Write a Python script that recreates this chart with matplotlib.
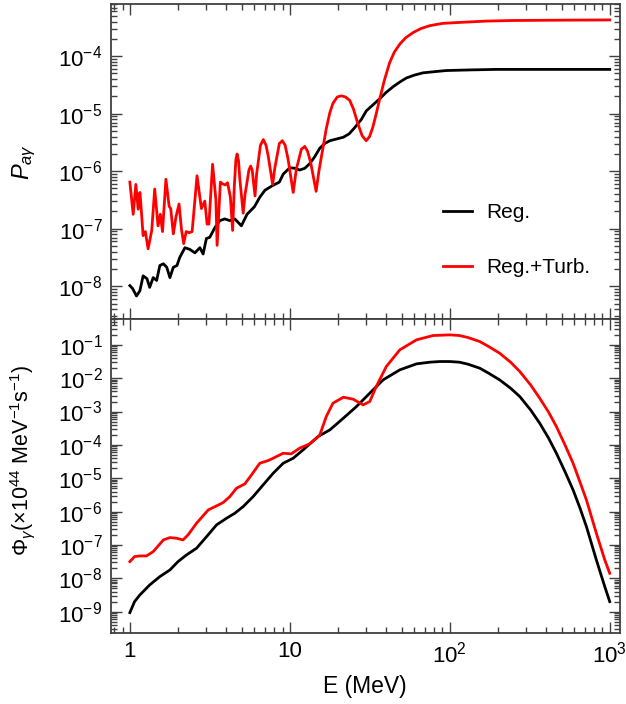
import numpy as np
import matplotlib
matplotlib.use('Agg')
import matplotlib.pyplot as plt
from matplotlib.ticker import LogLocator, NullFormatter

plt.rcParams['font.family'] = ['Liberation Sans', 'DejaVu Sans']
plt.rcParams['mathtext.fontset'] = 'custom'
plt.rcParams['mathtext.rm'] = 'Liberation Sans'
plt.rcParams['mathtext.it'] = 'Liberation Sans:italic'

# top panel: conversion probability, log10 values
E_reg_top = [1.0, 1.04, 1.10, 1.155, 1.21, 1.28, 1.33, 1.40, 1.47, 1.54, 1.62, 1.70,
             1.78, 1.87, 1.97, 2.05, 2.21, 2.37, 2.55, 2.74, 2.87, 3.01, 3.16, 3.40,
             3.65, 3.92, 4.22, 4.53, 4.98, 5.4, 6.0, 6.5, 7.0, 7.8, 8.6, 9.1, 10.0,
             10.8, 11.5, 12.4, 13.3, 14.3, 15.4, 16.5, 17.8, 19.6, 21.6, 23.5, 25.5, 28.0,
             30.1, 33.0, 36.5, 40.0, 44.3, 48.7, 53.5, 60, 68, 80, 95, 130, 195, 400, 1000]
logP_reg = [-7.99, -8.04, -8.17, -8.08, -7.82, -7.87, -8.02, -7.85, -7.90, -7.64, -7.61, -7.67,
            -7.85, -7.67, -7.64, -7.50, -7.33, -7.36, -7.42, -7.33, -7.44, -7.17, -7.15, -6.98,
            -6.86, -6.83, -6.86, -6.83, -6.95, -6.75, -6.62, -6.45, -6.33, -6.25, -6.19, -6.05, -5.94,
            -5.95, -5.98, -5.95, -5.87, -5.75, -5.60, -5.52, -5.47, -5.44, -5.41, -5.35, -5.24, -5.10,
            -4.95, -4.85, -4.74, -4.63, -4.53, -4.45, -4.38, -4.33, -4.29, -4.27, -4.25, -4.24, -4.23, -4.23, -4.23]

E_turb_top = [1.0, 1.049, 1.09, 1.127, 1.155, 1.17, 1.21, 1.25, 1.30, 1.37, 1.43, 1.50,
              1.55, 1.60, 1.68, 1.76, 1.80, 1.87, 1.94, 2.03, 2.10, 2.17, 2.25, 2.35,
              2.45, 2.63, 2.80, 2.94, 3.04, 3.12, 3.29, 3.45, 3.51, 3.68, 3.80, 3.95,
              4.08, 4.25, 4.39, 4.50, 4.60, 4.68, 4.78, 4.87, 5.11, 5.25, 5.36, 5.55,
              5.69, 5.82, 5.90, 6.06, 6.20, 6.34, 6.55, 6.83, 7.10, 7.32, 7.81, 8.05,
              8.25, 8.60, 8.98, 9.35, 9.75, 10.5, 11.0, 11.26, 11.8, 12.4, 12.9, 13.5,
              14.6, 15.2, 15.8, 16.9, 17.8, 18.6, 19.8, 21.0, 22.3, 23.7, 25.0, 26.6,
              28.3, 30.0, 31.5, 33.0, 34.7, 36.5, 39.0, 42.0, 45.0, 48.7, 53.0, 59.0,
              66.0, 75.0, 90.0, 121, 170, 248, 450, 1000]
logP_turb = [-6.19, -6.75, -6.23, -6.66, -6.37, -6.55, -7.12, -7.05, -7.35, -7.03, -6.31, -6.95,
             -6.75, -7.05, -6.14, -6.61, -6.65, -7.09, -6.80, -6.57, -7.00, -7.26, -7.05, -7.07,
             -7.05, -6.08, -6.65, -6.52, -6.92, -6.92, -5.88, -6.50, -7.29, -6.19, -6.22, -6.24,
             -6.20, -6.45, -7.03, -6.25, -5.80, -5.70, -5.82, -6.14, -6.73, -6.40, -6.25, -5.98,
             -5.91, -5.98, -6.14, -6.43, -6.05, -5.85, -5.55, -5.45, -5.55, -5.73, -6.23, -5.95,
             -5.79, -5.52, -5.47, -5.55, -5.79, -6.37, -5.95, -5.85, -5.62, -5.57, -5.65, -5.85,
             -6.35, -6.00, -5.73, -5.26, -4.98, -4.82, -4.71, -4.69, -4.71, -4.77, -4.92, -5.17,
             -5.38, -5.47, -5.40, -5.24, -5.00, -4.74, -4.42, -4.12, -3.93, -3.79, -3.68, -3.59,
             -3.52, -3.47, -3.43, -3.41, -3.39, -3.38, -3.375, -3.37]

# bottom panel: photon flux, log10 values
E_reg_bot = [1.0, 1.07, 1.155, 1.33, 1.54, 1.78, 2.0, 2.26, 2.61, 3.02, 3.48, 4.02, 4.53,
             5.11, 5.90, 6.81, 7.87, 9.09, 10.5, 12.1, 14.0, 15.0, 17.8, 21.6, 26.1, 31.6,
             38.3, 48.7, 61.9, 75, 86.6, 100, 115, 130, 154, 175, 205, 240, 274, 320, 365,
             415, 464, 525, 590, 650, 715, 825, 931, 1000]
logF_reg = [-9.03, -8.70, -8.50, -8.20, -7.95, -7.75, -7.50, -7.30, -7.10, -6.75, -6.40, -6.20, -6.05,
            -5.85, -5.55, -5.20, -4.85, -4.55, -4.40, -4.15, -3.88, -3.75, -3.55, -3.20, -2.85, -2.45,
            -2.05, -1.75, -1.57, -1.52, -1.50, -1.50, -1.52, -1.58, -1.70, -1.85, -2.05, -2.30, -2.55, -2.95, -3.35,
            -3.80, -4.25, -4.80, -5.35, -5.88, -6.45, -7.45, -8.25, -8.70]

E_turb_bot = [1.0, 1.07, 1.155, 1.27, 1.40, 1.62, 1.78, 1.96, 2.15, 2.31, 2.61, 3.09, 3.48,
              3.83, 4.22, 4.64, 5.23, 5.76, 6.49, 7.32, 7.87, 9.09, 10.2, 11.5, 13.3, 14.7,
              15.4, 16.9, 18.6, 21.6, 24.9, 28.7, 31.6, 34.7, 40.1, 48.7, 61.9, 78.6, 100,
              115, 130, 154, 175, 205, 240, 274, 320, 365, 415, 464, 525, 590, 650, 715,
              825, 931, 1000]
logF_turb = [-7.50, -7.35, -7.33, -7.33, -7.20, -6.85, -6.78, -6.80, -6.85, -6.70, -6.35, -5.95, -5.83,
             -5.73, -5.55, -5.30, -5.17, -4.90, -4.55, -4.47, -4.40, -4.25, -4.27, -4.10, -3.97, -3.80,
             -3.70, -3.15, -2.75, -2.57, -2.63, -2.80, -2.70, -2.25, -1.65, -1.15, -0.85, -0.72, -0.70,
             -0.72, -0.78, -0.90, -1.05, -1.25, -1.52, -1.80, -2.20, -2.60, -3.02, -3.45, -4.00, -4.55, -5.10, -5.65,
             -6.65, -7.45, -7.85]

labels = ['Reg.', 'Reg.+Turb.']
colors = ['black', 'red']


def style_axis(ax):
    ax.set_xscale('log')
    ax.set_yscale('log')
    ax.tick_params(which='both', direction='in', top=True, right=True,
                   color='#404040', labelsize=16, width=1.0, pad=6)
    ax.tick_params(which='major', length=8)
    ax.tick_params(which='minor', length=4)
    ax.yaxis.set_major_locator(LogLocator(base=10, numticks=20))
    ax.yaxis.set_minor_locator(LogLocator(base=10, subs=np.arange(2, 10), numticks=20))
    ax.yaxis.set_minor_formatter(NullFormatter())
    for s in ax.spines.values():
        s.set_color('#404040')
        s.set_linewidth(1.3)


fig = plt.figure(figsize=(6.26, 7.04), dpi=100)
ax1 = fig.add_axes([0.177, 0.547, 0.813, 0.447])
ax2 = fig.add_axes([0.177, 0.101, 0.813, 0.446], sharex=ax1)

ax1.plot(E_reg_top, 10 ** np.array(logP_reg), color=colors[0], lw=2, label=labels[0])
ax1.plot(E_turb_top, 10 ** np.array(logP_turb), color=colors[1], lw=2, label=labels[1])
ax2.plot(E_reg_bot, 10 ** np.array(logF_reg), color=colors[0], lw=2)
ax2.plot(E_turb_bot, 10 ** np.array(logF_turb), color=colors[1], lw=2)

style_axis(ax1)
style_axis(ax2)

ax1.set_xlim(0.76, 1155)
ax1.set_ylim(2.7e-9, 8e-4)
ax2.set_ylim(2.3e-10, 0.6)
ax1.tick_params(labelbottom=False)

ax2.set_xticks([1, 10, 100, 1000])
ax2.set_xticklabels(['1', '10', r'$\mathdefault{10^2}$', r'$\mathdefault{10^3}$'])

ax1.set_ylabel(r'$P_{a\gamma}$', fontsize=17)
ax1.yaxis.set_label_coords(-0.143, 0.5)
ax2.set_ylabel(r'$\Phi_\gamma$(×10$^{44}$ MeV$^{-1}$s$^{-1}$)', fontsize=15.5)
ax2.yaxis.set_label_coords(-0.145, 0.55)
ax2.set_xlabel('E (MeV)', fontsize=16.5, labelpad=6)

ax1.legend(frameon=False, loc='center left', bbox_to_anchor=(0.615, 0.25),
           fontsize=15, handlelength=1.4, handletextpad=0.7, labelspacing=1.75)

fig.savefig('out.png', dpi=100)
